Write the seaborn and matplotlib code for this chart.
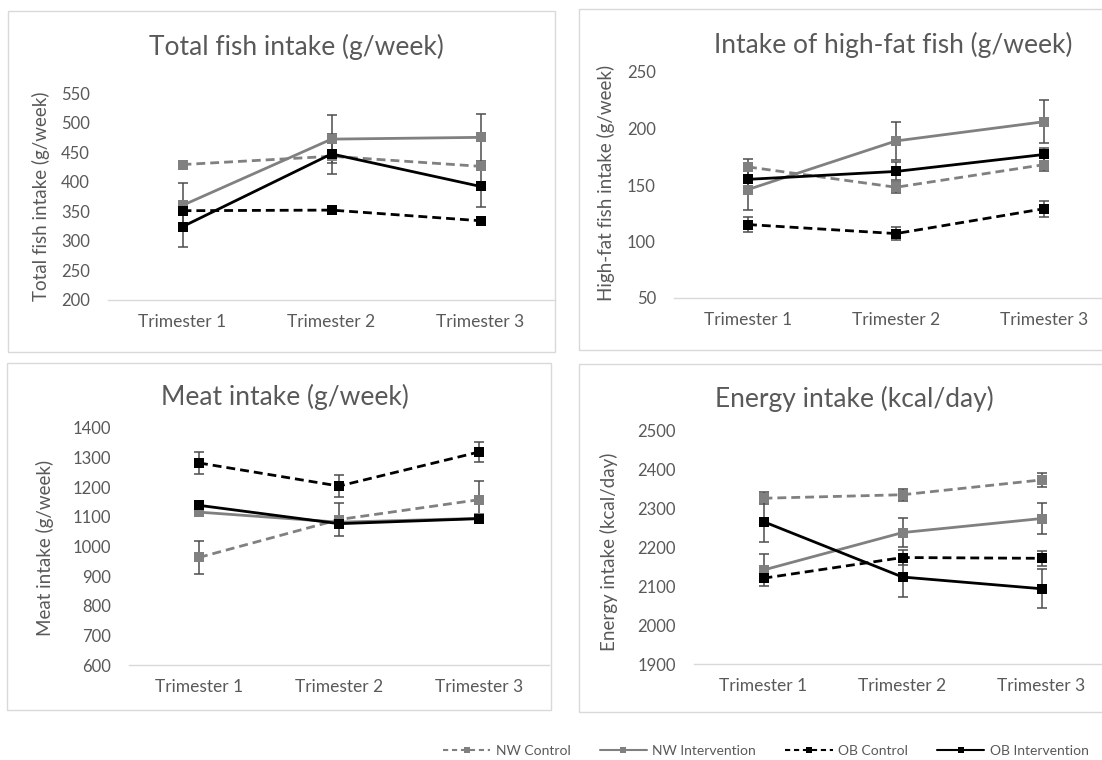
import pandas as pd
import matplotlib.pyplot as plt
import seaborn as sns
from matplotlib.lines import Line2D
from matplotlib.patches import Rectangle

# Data (means and +/- error bars)
trimesters = ['Trimester 1', 'Trimester 2', 'Trimester 3']
groups = ['NW Control', 'NW Intervention', 'OB Control', 'OB Intervention']

fish_mean = {'NW Control': [429, 443, 426], 'NW Intervention': [360, 472, 475],
             'OB Control': [351, 352, 334], 'OB Intervention': [324, 447, 392]}
fish_err = {'NW Control': [5, 5, 6], 'NW Intervention': [37, 40, 40],
            'OB Control': [5, 5, 5], 'OB Intervention': [35, 34, 35]}

hf_mean = {'NW Control': [166, 148, 168], 'NW Intervention': [146, 189, 206],
           'OB Control': [115, 107, 129], 'OB Intervention': [155, 162, 177]}
hf_err = {'NW Control': [7, 5, 6], 'NW Intervention': [18, 17, 19],
          'OB Control': [7, 6, 7], 'OB Intervention': [7, 8, 6]}

meat_mean = {'NW Control': [963, 1091, 1158], 'NW Intervention': [1116, 1082, 1095],
             'OB Control': [1282, 1204, 1319], 'OB Intervention': [1139, 1077, 1094]}
meat_err = {'NW Control': [57, 57, 62], 'NW Intervention': [8, 8, 8],
            'OB Control': [36, 37, 34], 'OB Intervention': [8, 10, 10]}

energy_mean = {'NW Control': [2325, 2334, 2372], 'NW Intervention': [2141, 2237, 2273],
               'OB Control': [2120, 2173, 2171], 'OB Intervention': [2265, 2123, 2093]}
energy_err = {'NW Control': [15, 15, 17], 'NW Intervention': [40, 38, 39],
              'OB Control': [10, 20, 20], 'OB Intervention': [52, 52, 50]}

panels = [
    ('Total fish intake (g/week)', 'Total fish intake (g/week)', fish_mean, fish_err, (200, 550), 50),
    ('Intake of high-fat fish (g/week)', 'High-fat fish intake (g/week)', hf_mean, hf_err, (50, 250), 50),
    ('Meat intake (g/week)', 'Meat intake (g/week)', meat_mean, meat_err, (600, 1400), 100),
    ('Energy intake (kcal/day)', 'Energy intake (kcal/day)', energy_mean, energy_err, (1900, 2500), 100),
]

W, H = 1102, 760
GRAY = '#808080'
TXT = '#595959'
palette = {'NW Control': GRAY, 'NW Intervention': GRAY, 'OB Control': 'black', 'OB Intervention': 'black'}
dash_map = {'NW Control': (3.2, 1.8), 'NW Intervention': '', 'OB Control': (3.2, 1.8), 'OB Intervention': ''}

sns.set_style('white')
plt.rcParams['font.family'] = ['Lato', 'DejaVu Sans']

fig = plt.figure(figsize=(W / 100, H / 100), dpi=100)

# pixel layout: axes box (left, right, top, bottom), panel frame, title centre, ylabel centre
layout = [
    dict(ax=(108, 555, 93, 300), frame=(8, 555, 11, 352), title=(296, 47), ylab=(41, 196)),
    dict(ax=(674, 1118, 72, 298), frame=(579, 1140, 9, 350), title=(893, 45), ylab=(606, 183)),
    dict(ax=(129, 549, 428, 665), frame=(7, 551, 363, 710), title=(285, 397), ylab=(45, 548)),
    dict(ax=(694, 1111, 430, 664), frame=(579, 1140, 364, 712), title=(854, 399), ylab=(609, 552)),
]

for (title, ylab, means, errs, ylim, step), lay in zip(panels, layout):
    fl, fr, ft, fb = lay['frame']
    fig.add_artist(Rectangle((fl / W, 1 - fb / H), (fr - fl) / W, (fb - ft) / H,
                             transform=fig.transFigure, fill=False, edgecolor='#d9d9d9', lw=1))

    l, r, t, b = lay['ax']
    ax = fig.add_axes([l / W, 1 - b / H, (r - l) / W, (b - t) / H])

    df = pd.DataFrame([(g, tr, means[g][i], errs[g][i]) for g in groups for i, tr in enumerate(trimesters)],
                      columns=['Group', 'Trimester', 'Value', 'Err'])

    for g in groups:
        sub = df[df['Group'] == g]
        ax.errorbar(sub['Trimester'], sub['Value'], yerr=sub['Err'], fmt='none',
                    ecolor='#4d4d4d', elinewidth=1.1, capsize=3.5, capthick=1.1, zorder=1)

    sns.lineplot(data=df, x='Trimester', y='Value', hue='Group', style='Group',
                 palette=palette, dashes=dash_map, markers={g: 's' for g in groups},
                 markersize=7, markeredgewidth=0, linewidth=2, sort=False,
                 legend=False, ax=ax, zorder=3)

    ax.set_xlim(-0.5, 2.5)
    ax.set_ylim(*ylim)
    ax.set_yticks(range(ylim[0], ylim[1] + 1, step))
    ax.set_xlabel('')
    ax.set_ylabel('')
    for s in ['top', 'right', 'left']:
        ax.spines[s].set_visible(False)
    ax.spines['bottom'].set_color('#d9d9d9')
    ax.spines['bottom'].set_linewidth(1)
    ax.tick_params(axis='y', length=0, pad=13, labelsize=12, labelcolor=TXT)
    ax.tick_params(axis='x', length=0, pad=10, labelsize=12.5, labelcolor=TXT)
    ax.patch.set_alpha(0)

    fig.text(lay['title'][0] / W, 1 - lay['title'][1] / H, title, ha='center', va='center',
             fontsize=19, color=TXT)
    fig.text(lay['ylab'][0] / W, 1 - lay['ylab'][1] / H, ylab, ha='center', va='center',
             rotation=90, fontsize=13.5, color=TXT)

handles = []
for g in groups:
    h = Line2D([], [], color=palette[g], lw=1.5, marker='s', markersize=5, markeredgewidth=0)
    if dash_map[g]:
        h.set_dashes((2.5, 1.8))
    handles.append(h)

fig.legend(handles, groups, loc='center left', bbox_to_anchor=(443 / W, 1 - 751 / H), ncol=4,
           frameon=False, fontsize=10, labelcolor=TXT, handlelength=3.4, handletextpad=0.4,
           columnspacing=2.1, borderpad=0, borderaxespad=0)

fig.savefig('out.png', dpi=100)
